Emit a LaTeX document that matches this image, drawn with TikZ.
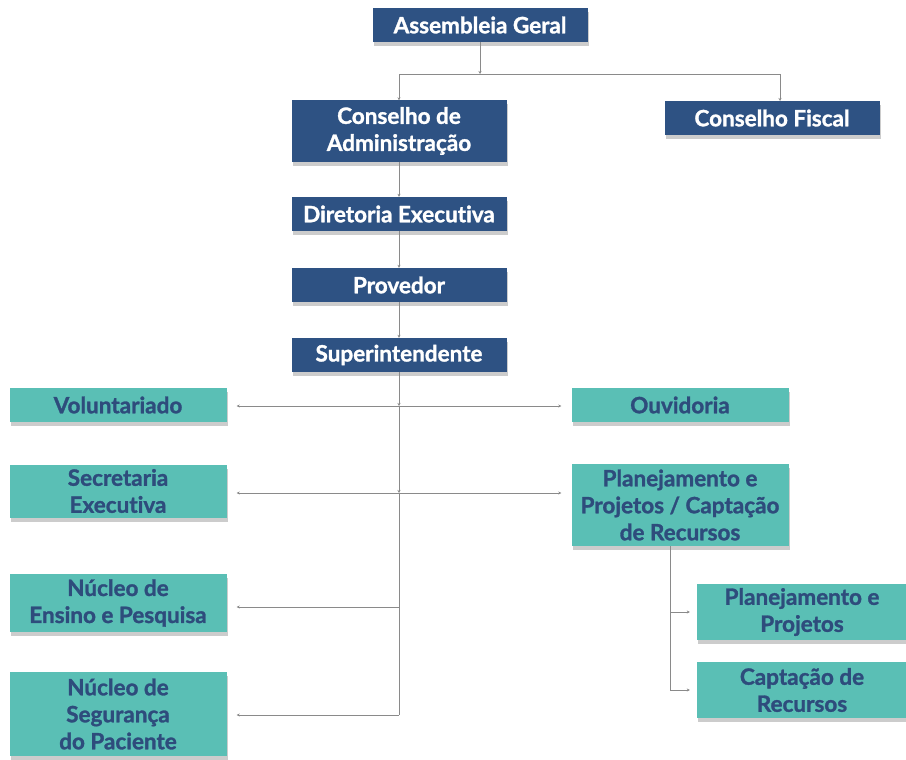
\documentclass[tikz,border=0pt]{standalone}
\usepackage{fontspec}
\setmainfont{Lato}[Ligatures={NoCommon,NoRare}, BoldFeatures={FakeBold=1.3}]
\usetikzlibrary{shadows,arrows.meta}
\definecolor{navybox}{HTML}{2E5283}
\definecolor{tealbox}{HTML}{5ABFB5}
\definecolor{navytext}{HTML}{2E4C7C}
\definecolor{linegray}{HTML}{8A8A8A}
\begin{document}
\begin{tikzpicture}[x=1pt, y=-1pt, >={Stealth[length=3pt,width=3pt]}]
	\tikzstyle{every node}=[inner sep=0pt, align=center, font=\fontsize{22.5}{27}\selectfont\bfseries]
	\tikzstyle{bluebox}=[rectangle, fill=navybox, text=white, minimum width=215pt, minimum height=34pt,
		drop shadow={shadow xshift=1pt, shadow yshift=-4pt, fill=black!40}]
	\tikzstyle{tealbox}=[rectangle, fill=tealbox, text=navytext, minimum width=217pt, minimum height=34pt,
		drop shadow={shadow xshift=1pt, shadow yshift=-4pt, fill=black!40}]
	\tikzstyle{link}=[draw=linegray, line width=0.8pt]
	\useasboundingbox (0,0) rectangle (906,760);
	% top levels
	\node[bluebox] (AG) at (480, 25) {Assembleia Geral};
	\node[bluebox, minimum height=61pt] (CA) at (399, 131) {Conselho de\\Administração};
	\node[bluebox] (CF) at (772, 118) {Conselho Fiscal};
	\node[bluebox] (DE) at (399, 214) {Diretoria Executiva};
	\node[bluebox] (PR) at (399, 285) {Provedor};
	\node[bluebox] (SI) at (399, 355) {Superintendente};
	% staff units
	\node[tealbox] (VO) at (118, 405) {Voluntariado};
	\node[tealbox, minimum height=53pt] (SE) at (118, 491) {Secretaria\\Executiva};
	\node[tealbox] (OU) at (680, 405) {Ouvidoria};
	\node[tealbox, minimum height=82pt] (PP) at (680, 505) {Planejamento e\\Projetos / Captação\\de Recursos};
	\node[tealbox, minimum height=58pt] (NE) at (118, 603) {Núcleo de\\Ensino e Pesquisa};
	\node[tealbox, minimum height=84pt] (NS) at (118, 714) {Núcleo de\\Segurança\\do Paciente};
	\node[tealbox, minimum width=210pt, minimum height=56pt] (PJ) at (802, 612) {Planejamento e\\Projetos};
	\node[tealbox, minimum width=210pt, minimum height=56pt] (CR) at (802, 690) {Captação de\\Recursos};
	% junctions
	\coordinate (jA) at (480, 74);
	\coordinate (j1) at (399, 406);
	\coordinate (j2) at (399, 493);
	\coordinate (j3) at (399, 607);
	\coordinate (j4) at (399, 715);
	\coordinate (k1) at (670, 546);
	% connectors
	\draw[link, ->] (AG) -- (jA);
	\draw[link, ->] (jA) -| (CA);
	\draw[link, ->] (jA) -| (780, 101);
	\draw[link, ->] (CA) -- (DE);
	\draw[link, ->] (DE) -- (PR);
	\draw[link, ->] (PR) -- (SI);
	\draw[link, ->] (SI) -- (j1);
	\draw[link, ->, shorten >=10pt] (j1) -- (j1 -| VO.east);
	\draw[link, ->, shorten >=10pt] (j1) -- (j1 -| OU.west);
	\draw[link, ->] (j1) -- (j2);
	\draw[link, ->, shorten >=10pt] (j2) -- (j2 -| SE.east);
	\draw[link, ->, shorten >=10pt] (j2) -- (j2 -| PP.west);
	\draw[link] (j2) -- (j4);
	\draw[link, ->, shorten >=10pt] (j3) -- (j3 -| NE.east);
	\draw[link, ->, shorten >=10pt] (j4) -- (j4 -| NS.east);
	\draw[link, ->, shorten >=7pt] (k1) |- (PJ.west);
	\draw[link, ->, shorten >=7pt] (k1) |- (CR.west);
\end{tikzpicture}
\end{document}
